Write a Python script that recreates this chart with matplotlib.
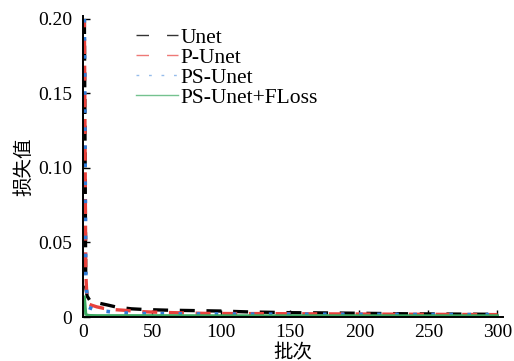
import matplotlib
matplotlib.use("Agg")
import matplotlib.pyplot as plt
from matplotlib.lines import Line2D
from matplotlib.ticker import FuncFormatter

plt.rcParams['font.family'] = ['Liberation Serif', 'Noto Sans CJK SC']

# Data
unet_x = [1, 2, 3, 5, 8, 12, 18, 25, 35, 45, 60, 80, 100, 120, 150, 180, 200, 230, 260, 300]
unet_y = [0.200, 0.020, 0.014, 0.011, 0.010, 0.0092, 0.0080, 0.0065, 0.0055, 0.0050,
          0.0046, 0.0043, 0.0040, 0.0034, 0.0029, 0.0027, 0.0025, 0.0022, 0.0020, 0.0018]

punet_x = [1, 2, 3, 4, 6, 10, 15, 22, 30, 40, 50, 70, 90, 110, 130, 150, 200, 250, 300]
punet_y = [0.200, 0.030, 0.010, 0.0088, 0.0080, 0.0068, 0.0058, 0.0050, 0.0045, 0.0037,
           0.0033, 0.0028, 0.0024, 0.0023, 0.0023, 0.0022, 0.0020, 0.0018, 0.0016]

psunet_x = [1, 2, 3, 4, 8, 15, 25, 35, 45, 60, 80, 100, 150, 200, 250, 300]
psunet_y = [0.200, 0.030, 0.012, 0.0065, 0.0050, 0.0040, 0.0030, 0.0025, 0.0023, 0.0022,
            0.0021, 0.0020, 0.0019, 0.0018, 0.0017, 0.0016]

floss_x = [1, 2, 3, 5, 10, 50, 100, 150, 200, 250, 300]
floss_y = [0.0134, 0.0020, 0.0012, 0.0010, 0.0009, 0.0009, 0.0008, 0.0008, 0.0008, 0.0008, 0.0008]

labels = ['Unet', 'P-Unet', 'PS-Unet', 'PS-Unet+FLoss']
colors = ['#000000', '#e8413c', '#2f7bd8', '#3aa860']
x_ticks = [0, 50, 100, 150, 200, 250, 300]
y_ticks = [0, 0.05, 0.10, 0.15, 0.20]

fig = plt.figure(figsize=(5.14, 3.61), dpi=100)
ax = fig.add_axes([83/514, 44/361, 420/514, 301/361])

ax.plot(unet_x, unet_y, color=colors[0], lw=2.4, linestyle=(0, (4.5, 3.5)))
ax.plot(punet_x, punet_y, color=colors[1], lw=2.4, linestyle=(2, (4.5, 3.5)))
ax.plot(psunet_x, psunet_y, color=colors[2], lw=2.6, linestyle=(0, (1, 4)))
ax.plot(floss_x, floss_y, color=colors[3], lw=2.2, linestyle='-')

ax.set_xlim(0, 304)
ax.set_ylim(0, 0.202)
ax.set_xticks(x_ticks)
ax.set_yticks(y_ticks)
ax.yaxis.set_major_formatter(FuncFormatter(lambda v, p: '0' if v == 0 else f'{v:.2f}'))

for s in ['top', 'right']:
    ax.spines[s].set_visible(False)
for s in ['left', 'bottom']:
    ax.spines[s].set_linewidth(1.4)

ax.tick_params(axis='both', direction='in', length=5, width=1.0, labelsize=14)
ax.tick_params(axis='y', pad=8)
ax.tick_params(axis='x', pad=5)

ax.set_xlabel('批次', fontsize=14, labelpad=2)
ax.set_ylabel('损失值', fontsize=14, labelpad=3)

handles = [
    Line2D([], [], color=colors[0], lw=1.0, alpha=0.8, linestyle=(0, (9, 13))),
    Line2D([], [], color=colors[1], lw=1.0, alpha=0.7, linestyle=(0, (9, 13))),
    Line2D([], [], color=colors[2], lw=1.0, alpha=0.5, linestyle=(0, (2, 7))),
    Line2D([], [], color=colors[3], lw=1.0, alpha=0.7, linestyle='-'),
]
fig.legend(handles, labels, loc='upper left', bbox_to_anchor=(127/514, 1 - 19/361),
           frameon=False, fontsize=15.5, labelspacing=0.0, handlelength=1.95,
           handletextpad=0.12, borderaxespad=0)

fig.savefig('out.png', dpi=100)
